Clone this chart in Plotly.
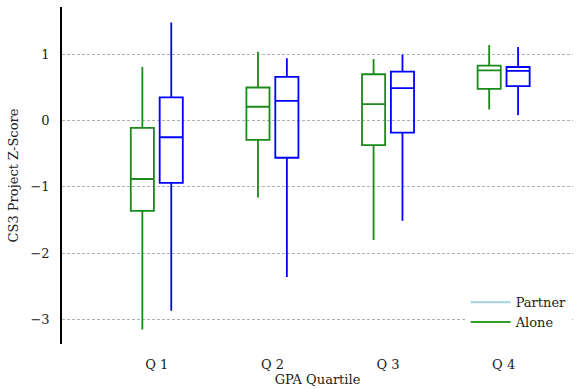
import plotly.graph_objects as go

# GPA quartile groups
quartiles = ["Q 1", "Q 2", "Q 3", "Q 4"]

# Box statistics (z-scores) for students working alone
alone_low = [-3.15, -1.16, -1.80, 0.17]
alone_q1 = [-1.36, -0.29, -0.37, 0.48]
alone_med = [-0.88, 0.21, 0.25, 0.76]
alone_q3 = [-0.11, 0.50, 0.70, 0.83]
alone_high = [0.81, 1.04, 0.93, 1.14]

# Box statistics (z-scores) for students working with a partner
partner_low = [-2.87, -2.36, -1.51, 0.08]
partner_q1 = [-0.94, -0.56, -0.18, 0.52]
partner_med = [-0.25, 0.30, 0.49, 0.75]
partner_q3 = [0.35, 0.66, 0.74, 0.81]
partner_high = [1.48, 0.94, 1.00, 1.11]

ALONE_COLOR = "#1a8a1a"
PARTNER_COLOR = "#0000ff"
FONT = "DejaVu Serif"

idx = list(range(len(quartiles)))
offset = 0.125
box_w = 0.2

fig = go.Figure()

fig.add_trace(go.Box(
    x=[i - offset for i in idx],
    lowerfence=alone_low, q1=alone_q1, median=alone_med,
    q3=alone_q3, upperfence=alone_high,
    width=box_w, whiskerwidth=0,
    line=dict(color=ALONE_COLOR, width=1.8),
    fillcolor="rgba(0,0,0,0)",
    showlegend=False, hoverinfo="skip",
))
fig.add_trace(go.Box(
    x=[i + offset for i in idx],
    lowerfence=partner_low, q1=partner_q1, median=partner_med,
    q3=partner_q3, upperfence=partner_high,
    width=box_w, whiskerwidth=0,
    line=dict(color=PARTNER_COLOR, width=1.8),
    fillcolor="rgba(0,0,0,0)",
    showlegend=False, hoverinfo="skip",
))

# Legend entries
fig.add_trace(go.Scatter(x=[None], y=[None], mode="lines",
                         line=dict(color="#a6cee3", width=2), name="Partner"))
fig.add_trace(go.Scatter(x=[None], y=[None], mode="lines",
                         line=dict(color="#33a02c", width=2), name="Alone"))

fig.update_layout(
    width=576, height=389,
    margin=dict(l=62, r=3, t=7, b=45),
    paper_bgcolor="white", plot_bgcolor="white",
    font=dict(family=FONT, size=13, color="#222"),
    showlegend=True,
    legend=dict(x=0.79, y=0.02, xanchor="left", yanchor="bottom",
                bgcolor="white", font=dict(size=13),
                tracegroupgap=0, itemwidth=40),
)

fig.update_xaxes(
    range=[-0.82, 3.60],
    tickmode="array", tickvals=idx, ticktext=quartiles,
    showgrid=False, zeroline=False, showline=False, ticks="",
    ticklabelstandoff=11,
    title=dict(text="GPA Quartile", standoff=3, font=dict(size=13)),
)

fig.update_yaxes(
    range=[-3.37, 1.715],
    tickmode="array", tickvals=[-3, -2, -1, 0, 1],
    showgrid=True, gridcolor="#b0b0b0", griddash="3px,2px", gridwidth=0.8,
    zeroline=False, showline=True, linecolor="black", linewidth=1.5,
    ticks="", ticklabelstandoff=8,
    title=dict(text="CS3 Project Z-Score", standoff=9, font=dict(size=13)),
)

fig.write_html("out.html")
